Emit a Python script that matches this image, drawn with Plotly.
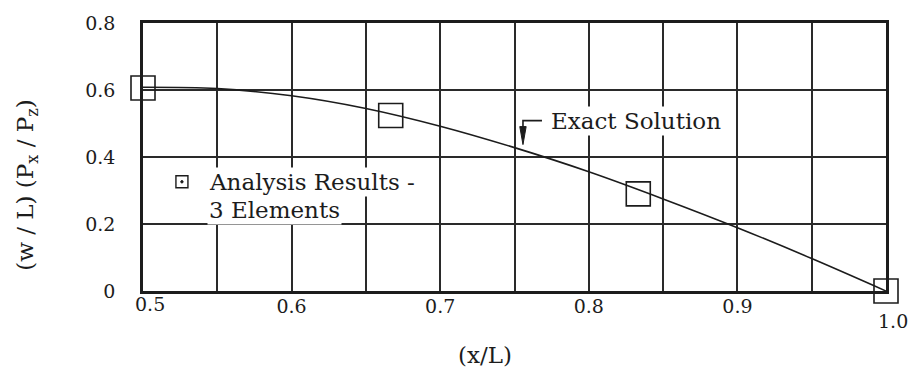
import plotly.graph_objects as go

# ---- data ----
exact_x = [0.50, 0.55, 0.60, 0.65, 0.70, 0.75, 0.80, 0.85, 0.90, 0.95, 1.00]
exact_y = [0.608, 0.604, 0.583, 0.545, 0.492, 0.428, 0.356, 0.275, 0.189, 0.097, 0.0]

fem_x = [0.5, 0.6667, 0.8333, 1.0]
fem_y = [0.606, 0.524, 0.290, 0.0]

x_grid = [0.50, 0.55, 0.60, 0.65, 0.70, 0.75, 0.80, 0.85, 0.90, 0.95, 1.00]
x_ticks = [0.6, 0.7, 0.8, 0.9]
x_labels = ["0.6", "0.7", "0.8", "0.9"]
y_ticks = [0, 0.2, 0.4, 0.6, 0.8]
y_labels = ["0", "0.2", "0.4", "0.6", "0.8"]

INK = "#1c1c1c"
GRID = "#2a2a2a"
FONT = "DejaVu Serif"

fig = go.Figure()
fig.add_trace(go.Scatter(x=exact_x, y=exact_y, mode="lines",
                         line=dict(color=INK, width=1.6, shape="spline"),
                         showlegend=False, cliponaxis=False))
fig.add_trace(go.Scatter(x=fem_x, y=fem_y, mode="markers",
                         marker=dict(symbol="square-open", size=24,
                                     color=INK, line=dict(color=INK, width=1.6)),
                         showlegend=False, cliponaxis=False))

fig.update_layout(
    width=912, height=373,
    margin=dict(l=143, r=26, t=18, b=82),
    paper_bgcolor="white", plot_bgcolor="white",
    font=dict(family=FONT, color=INK, size=19),
    xaxis=dict(range=[0.5, 1.0], tickvals=x_ticks, ticktext=x_labels,
               showgrid=True, gridcolor=GRID, gridwidth=1.5,
               minor=dict(tickvals=x_grid, showgrid=True, gridcolor=GRID,
                          gridwidth=1.5, ticks=""),
               showline=True, linecolor=INK, linewidth=2.5, mirror=True,
               ticks="", zeroline=False, tickfont=dict(size=19),
               ticklabelstandoff=-4),
    yaxis=dict(range=[0, 0.8], tickvals=y_ticks, ticktext=y_labels,
               showgrid=True, gridcolor=GRID, gridwidth=1.5,
               showline=True, linecolor=INK, linewidth=2.5, mirror=True,
               ticks="", zeroline=False, tickfont=dict(size=19),
               ticklabelstandoff=21),
)

ann = []
# end tick labels placed as in the reference
ann.append(dict(x=0.5, y=-0.049, xref="x", yref="paper", text="0.5",
                showarrow=False, xshift=7, yanchor="middle",
                font=dict(size=19)))
ann.append(dict(x=1.0, y=-0.111, xref="x", yref="paper", text="1.0",
                showarrow=False, xshift=7, yanchor="middle",
                font=dict(size=19)))
# axis titles
ann.append(dict(x=0.46, y=-0.24, xref="paper", yref="paper", text="(x/L)",
                showarrow=False, yanchor="middle", font=dict(size=23)))
ann.append(dict(x=-0.156, y=0.393, xref="paper", yref="paper",
                text="(w / L) (P<sub>x</sub> / P<sub>z</sub>)", textangle=-90,
                showarrow=False, xanchor="center", yanchor="middle",
                font=dict(size=23)))
# legend text
ann.append(dict(x=0.5431, y=0.326, xref="x", yref="y", text="Analysis Results -",
                showarrow=False, xanchor="left", yanchor="middle",
                bgcolor="white", borderpad=1, font=dict(size=23)))
ann.append(dict(x=0.5431, y=0.2413, xref="x", yref="y", text="3 Elements",
                showarrow=False, xanchor="left", yanchor="middle",
                bgcolor="white", borderpad=1, font=dict(size=23)))
# Exact solution label
ann.append(dict(x=0.7732, y=0.5075, xref="x", yref="y", text="Exact Solution",
                showarrow=False, xanchor="left", yanchor="middle",
                bgcolor="white", borderpad=1, font=dict(size=23)))
fig.update_layout(annotations=ann)

shapes = []
# bent leader "┌" from the label down to the curve
shapes.append(dict(type="path", xref="x", yref="y", xsizemode="pixel",
                   ysizemode="pixel", xanchor=0.7557, yanchor=0.437,
                   path="M 19 24 L 0 24 L 0 12",
                   line=dict(color=INK, width=1.6)))
# filled arrowhead
shapes.append(dict(type="path", xref="x", yref="y", xsizemode="pixel",
                   ysizemode="pixel", xanchor=0.7557, yanchor=0.437,
                   path="M -3.2 18 L 3.2 18 L 0 0 Z",
                   line=dict(color=INK, width=1), fillcolor=INK))
# legend key: square with a dot
shapes.append(dict(type="rect", xref="x", yref="y", xsizemode="pixel",
                   ysizemode="pixel", xanchor=0.5262, yanchor=0.326,
                   x0=-6, x1=6, y0=-6, y1=6,
                   line=dict(color=INK, width=1.4), fillcolor="white"))
shapes.append(dict(type="circle", xref="x", yref="y", xsizemode="pixel",
                   ysizemode="pixel", xanchor=0.5262, yanchor=0.326,
                   x0=-1.2, x1=1.2, y0=-1.2, y1=1.2,
                   line=dict(color=INK, width=1), fillcolor=INK))
fig.update_layout(shapes=shapes)

fig.write_html("out.html")
